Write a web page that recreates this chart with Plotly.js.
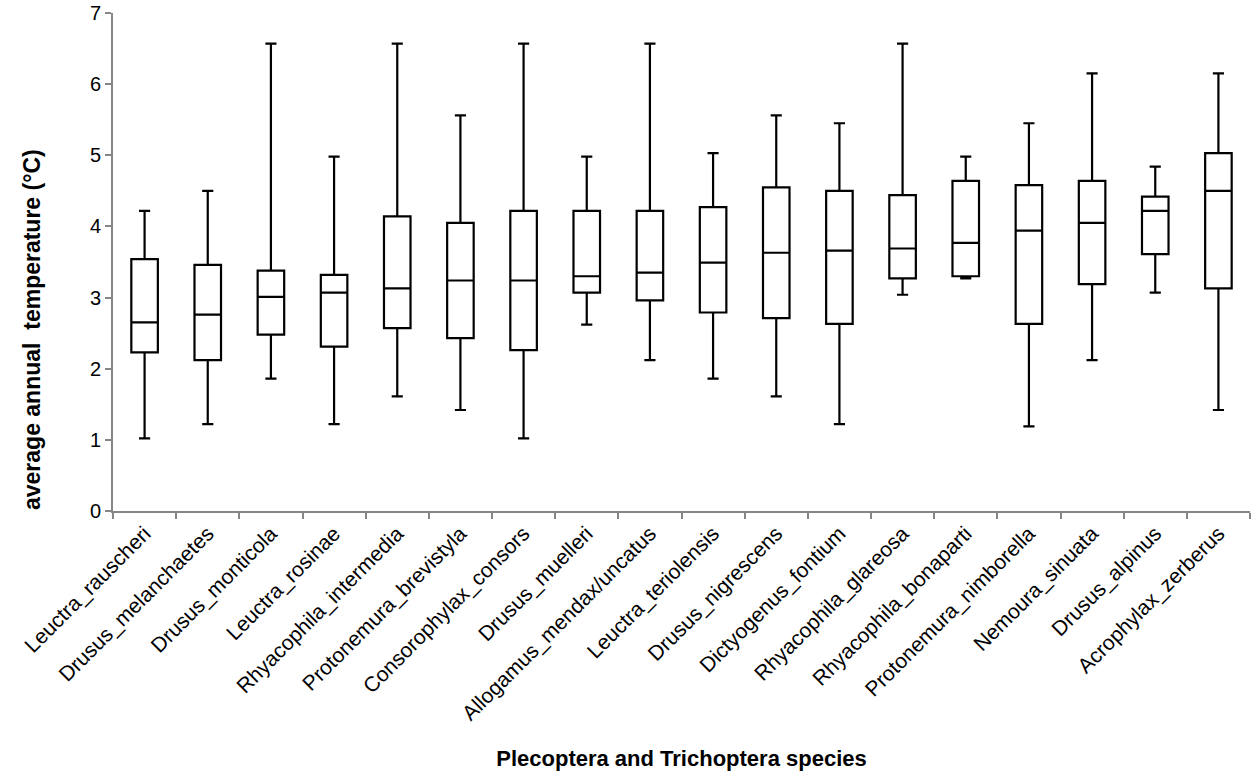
<!DOCTYPE html>
<html>
<head>
<meta charset="utf-8">
<script src="https://cdn.plot.ly/plotly-3.0.1.min.js"></script>
<style>html,body{margin:0;padding:0;background:#fff;}#chart{width:1255px;height:772px;}</style>
</head>
<body>
<div id="chart"></div>
<script>
const species = ["Leuctra_rauscheri","Drusus_melanchaetes","Drusus_monticola","Leuctra_rosinae","Rhyacophila_intermedia","Protonemura_brevistyla","Consorophylax_consors","Drusus_muelleri","Allogamus_mendax/uncatus","Leuctra_teriolensis","Drusus_nigrescens","Dictyogenus_fontium","Rhyacophila_glareosa","Rhyacophila_bonaparti","Protonemura_nimborella","Nemoura_sinuata","Drusus_alpinus","Acrophylax_zerberus"];
const minVals    = [1.02,1.22,1.86,1.22,1.61,1.42,1.02,2.62,2.12,1.86,1.61,1.22,3.04,3.27,1.19,2.12,3.07,1.42];
const q1Vals     = [2.23,2.12,2.48,2.31,2.57,2.43,2.26,3.07,2.96,2.79,2.71,2.63,3.27,3.30,2.63,3.19,3.61,3.13];
const medianVals = [2.65,2.76,3.01,3.07,3.13,3.24,3.24,3.30,3.35,3.49,3.63,3.66,3.69,3.77,3.94,4.05,4.22,4.50];
const q3Vals     = [3.54,3.46,3.38,3.32,4.14,4.05,4.22,4.22,4.22,4.27,4.55,4.50,4.44,4.64,4.58,4.64,4.42,5.03];
const maxVals    = [4.22,4.50,6.57,4.98,6.57,5.56,6.57,4.98,6.57,5.03,5.56,5.45,6.57,4.98,5.45,6.15,4.84,6.15];
const xTitle = "Plecoptera and Trichoptera species";
const yTitle = "average annual\u00a0 temperature (°C)";

const trace = {
  type: "box",
  x: species,
  lowerfence: minVals,
  q1: q1Vals,
  median: medianVals,
  q3: q3Vals,
  upperfence: maxVals,
  boxpoints: false,
  fillcolor: "#ffffff",
  line: {color: "#000000", width: 2.2},
  width: 0.42,
  whiskerwidth: 0.42,
  hoverinfo: "skip",
  showlegend: false
};

const FONT = "Liberation Sans, Arial, sans-serif";
const layout = {
  width: 1255, height: 772,
  margin: {l: 113, r: 5, t: 13, b: 261},
  paper_bgcolor: "#ffffff",
  plot_bgcolor: "#ffffff",
  font: {family: FONT, color: "#000000", size: 20},
  xaxis: {
    type: "category",
    range: [-0.5, species.length - 0.5],
    tickangle: -45,
    showline: true, linecolor: "#868686", linewidth: 2,
    ticks: "outside", tickson: "boundaries", ticklen: 6, tickcolor: "#868686", tickwidth: 2,
    showgrid: false, zeroline: false,
    tickfont: {size: 21, family: FONT, color: "#000000"},
    title: {text: "<b>" + xTitle + "</b>", font: {size: 22, family: FONT, color: "#000000"}, standoff: 26},
    automargin: false
  },
  yaxis: {
    range: [0, 7],
    dtick: 1,
    showline: true, linecolor: "#868686", linewidth: 2,
    ticks: "outside", ticklen: 6, tickcolor: "#868686", tickwidth: 2,
    showgrid: false, zeroline: false,
    tickfont: {size: 20, family: FONT, color: "#000000"},
    automargin: false
  },
  annotations: [{
    text: "<b>" + yTitle + "</b>",
    xref: "paper", yref: "paper",
    x: -0.0712, y: 0.3635,
    xanchor: "center", yanchor: "middle",
    textangle: -90,
    showarrow: false,
    font: {size: 23, family: FONT, color: "#000000"}
  }]
};

Plotly.newPlot("chart", [trace], layout, {displayModeBar: false, staticPlot: true});
</script>
</body>
</html>
